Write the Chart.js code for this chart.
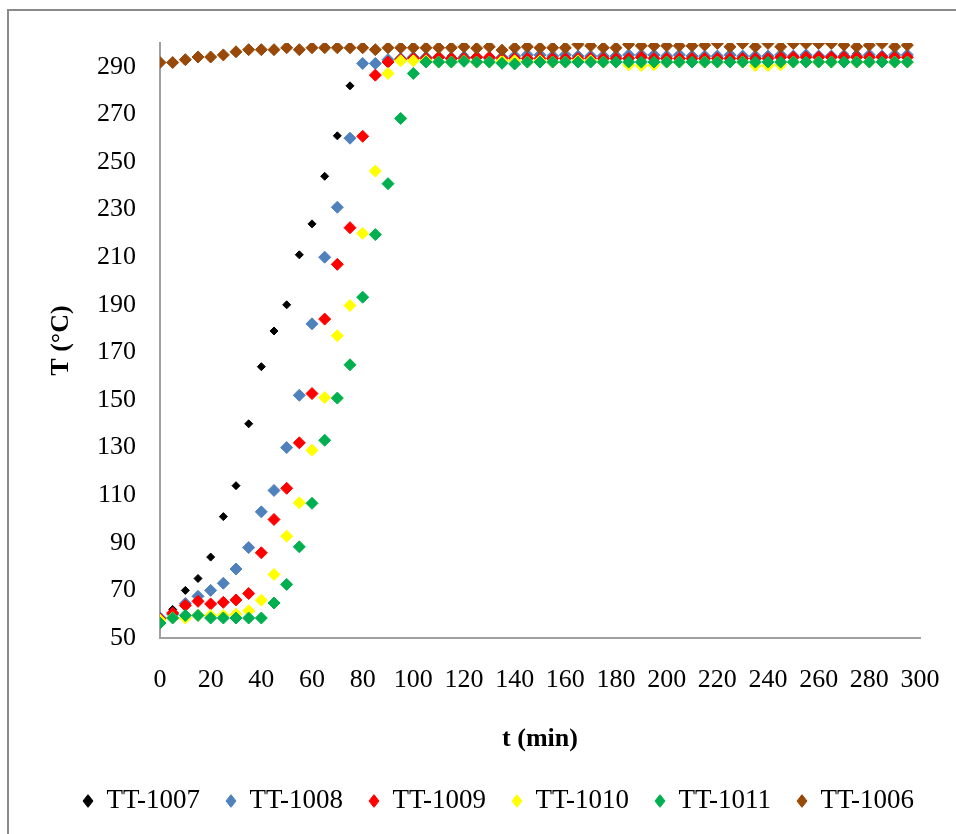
<!DOCTYPE html>
<html>
<head>
<meta charset="utf-8">
<script src="https://cdn.jsdelivr.net/npm/chart.js@4.4.1/dist/chart.umd.min.js"></script>
<style>
  html, body { margin: 0; padding: 0; background: #fff; }
  #wrap { position: relative; width: 956px; height: 834px; overflow: hidden; }
  #frame { position: absolute; left: 7px; top: 9px; width: 980px; height: 860px;
           border-left: 2px solid #8a8a8a; border-top: 2px solid #8a8a8a; }
  canvas { position: absolute; left: 0; top: 0; }
</style>
</head>
<body>
<div id="wrap">
  <div id="frame"></div>
  <canvas id="chart" width="956" height="834"></canvas>
</div>
<script>
// time (min), one reading every 5 minutes
const times = [
  0, 5, 10, 15, 20, 25, 30, 35, 40, 45,
  50, 55, 60, 65, 70, 75, 80, 85, 90, 95,
  100, 105, 110, 115, 120, 125, 130, 135, 140, 145,
  150, 155, 160, 165, 170, 175, 180, 185, 190, 195,
  200, 205, 210, 215, 220, 225, 230, 235, 240, 245,
  250, 255, 260, 265, 270, 275, 280, 285, 290, 295
];

// temperatures (°C)
const tt1007 = [
  58, 62, 70, 75, 84, 101, 114, 140, 164, 179,
  190, 211, 224, 244, 261, 282, 291, 291.5, 292, 292.5,
  292.5, 294, 294.5, 294.5, 295, 294.5, 294.5, 294, 294.5, 294.5,
  295, 294.5, 294.5, 295, 294.5, 294.5, 294.5, 294.5, 295, 294.5,
  294.5, 294.5, 294.5, 294.5, 295, 295.5, 295, 294.5, 294.5, 294.5,
  295, 294.5, 295, 295, 295.5, 295.5, 295, 294.5, 294.5, 294.5
];
const tt1008 = [
  58.5, 60, 64.5, 67.5, 70, 73, 79, 88, 103, 112,
  130, 152, 182, 210, 231, 260, 291.4, 291.4, 293, 293.5,
  294, 294, 294, 293.5, 294, 294, 293.5, 294, 294.5, 295,
  295, 294.5, 295, 294.5, 294.5, 294.5, 294.5, 295, 295, 295,
  294.5, 295, 294.5, 294.5, 294.5, 295, 294.5, 294.5, 294.5, 295,
  294.5, 295, 294.5, 294.5, 294.5, 294.5, 295, 294.5, 295, 295
];
const tt1009 = [
  58, 60.5, 63.7, 65.4, 64.3, 65, 66, 68.7, 85.8, 99.8,
  112.9, 132, 152.7, 184, 207, 222.4, 260.8, 286.5, 292, 293,
  293.5, 293.5, 294, 293.5, 293.5, 294, 294, 293.5, 293.5, 293.5,
  293.5, 293.5, 293.5, 293.5, 293.5, 293.5, 293.5, 293.5, 294, 293.5,
  293.5, 293.5, 293.5, 293.5, 293.5, 293.5, 293.5, 293.5, 293.5, 294,
  294, 294, 294, 294, 294, 294, 294, 294, 294, 294
];
const tt1010 = [
  57.5, 58.5, 58.4, 59.5, 59.5, 59.5, 60, 61.4, 65.9, 76.7,
  92.8, 106.8, 128.9, 151, 177, 189.7, 220, 246.2, 287.2, 292.5,
  292.5, 292.5, 292, 292, 292.5, 292, 292, 292.5, 292.5, 292,
  292.5, 292, 292, 292.5, 292.5, 292, 292, 290.8, 290.5, 290.8,
  292, 292, 292, 292, 292, 292, 292, 290.5, 290.5, 290.8,
  292, 292, 292, 292, 292, 292, 292, 292, 292, 292
];
const tt1011 = [
  56.3, 58.4, 59.5, 59.5, 58.4, 58.4, 58.4, 58.4, 58.4, 64.7,
  72.5, 88.3, 106.6, 133.1, 150.8, 164.8, 193.2, 219.5, 240.9, 268.3,
  287.2, 292, 292, 292, 292.3, 292, 292, 291.5, 291.2, 292,
  292, 292, 292, 292, 292, 292, 292, 292, 292, 292,
  292, 292, 292, 292, 292, 292, 292, 292, 292, 292,
  292, 292, 292, 292, 292, 292, 292, 292, 292, 292
];
const tt1006 = [
  291.8, 291.8, 293, 294.1, 294.1, 295, 296.3, 297.2, 297.2, 297.2,
  298, 297.2, 298, 298, 298, 298, 298, 297.2, 298, 298,
  298, 298, 298, 298, 298.4, 297.8, 298.4, 297, 298, 298.4,
  298, 298, 298, 299.4, 298.8, 298, 298, 299.4, 298.8, 298.8,
  298.8, 298.8, 298.8, 299.1, 299.8, 298.4, 299.8, 298.4, 299.8, 298.4,
  299.8, 299.8, 299.8, 299.8, 299.1, 298.4, 299.1, 299.8, 298.4, 299.1
];

const seriesNames = ["TT-1007", "TT-1008", "TT-1009", "TT-1010", "TT-1011", "TT-1006"];
const seriesValues = [tt1007, tt1008, tt1009, tt1010, tt1011, tt1006];
const seriesColors = ["#000000", "#4f81bd", "#ff0000", "#ffff00", "#00b050", "#984807"];

const xTicks = [0, 20, 40, 60, 80, 100, 120, 140, 160, 180, 200, 220, 240, 260, 280, 300];
const yTicks = [50, 70, 90, 110, 130, 150, 170, 190, 210, 230, 250, 270, 290];

const FONT = "'Liberation Serif', 'Times New Roman', serif";

const datasets = seriesNames.map((name, i) => ({
  label: name,
  data: times.map((t, k) => ({ x: t, y: seriesValues[i][k] })),
  pointStyle: "rectRot",
  pointRadius: i === 0 ? 4 : 6,
  pointBorderWidth: 1,
  backgroundColor: seriesColors[i],
  borderColor: seriesColors[i],
  showLine: false,
  // later series sit on top, like the spreadsheet
  order: seriesNames.length - 1 - i
}));

// move the legend row to where it sits in the picture
const legendShift = {
  id: "legendShift",
  beforeDraw(chart) {
    const lg = chart.legend;
    if (!lg) return;
    const w = lg.right - lg.left;
    lg.left = 57;
    lg.right = 57 + w;
  }
};

new Chart(document.getElementById("chart"), {
  type: "scatter",
  data: { datasets },
  plugins: [legendShift],
  options: {
    responsive: false,
    animation: false,
    layout: { padding: { left: 0, right: 36, top: 43, bottom: 9.5 } },
    plugins: {
      tooltip: { enabled: false },
      legend: {
        position: "bottom",
        align: "start",
        labels: {
          usePointStyle: true,
          pointStyleWidth: 10,
          boxHeight: 9,
          padding: 26,
          color: "#000",
          font: { family: FONT, size: 27 },
          sort: (a, b) => a.datasetIndex - b.datasetIndex
        }
      }
    },
    scales: {
      x: {
        type: "linear",
        min: 0,
        max: 300,
        afterBuildTicks: s => { s.ticks = xTicks.map(v => ({ value: v })); },
        afterFit: s => {
          s.height = 123.5;
          // the "300" label may hang past the plot edge
          s.paddingLeft = 0;
          s.paddingRight = 0;
        },
        grid: { display: false, drawTicks: false },
        border: { display: true, color: "#a0a0a0", width: 2 },
        ticks: {
          autoSkip: false,
          maxRotation: 0,
          padding: 27,
          color: "#000",
          font: { family: FONT, size: 26 }
        },
        title: {
          display: true,
          text: "t (min)",
          color: "#000",
          font: { family: FONT, size: 26, weight: "bold" },
          padding: { top: 0, bottom: 7 }
        }
      },
      y: {
        type: "linear",
        min: 50,
        max: 300,
        afterBuildTicks: s => { s.ticks = yTicks.map(v => ({ value: v })); },
        afterFit: s => { s.width = 160; },
        grid: { display: false, drawTicks: false },
        border: { display: true, color: "#a0a0a0", width: 2 },
        ticks: {
          padding: 24,
          color: "#000",
          font: { family: FONT, size: 26 }
        },
        title: {
          display: true,
          text: "T (°C)",
          color: "#000",
          font: { family: FONT, size: 26, weight: "bold" },
          padding: { top: 46, bottom: 0 }
        }
      }
    }
  }
});
</script>
</body>
</html>
